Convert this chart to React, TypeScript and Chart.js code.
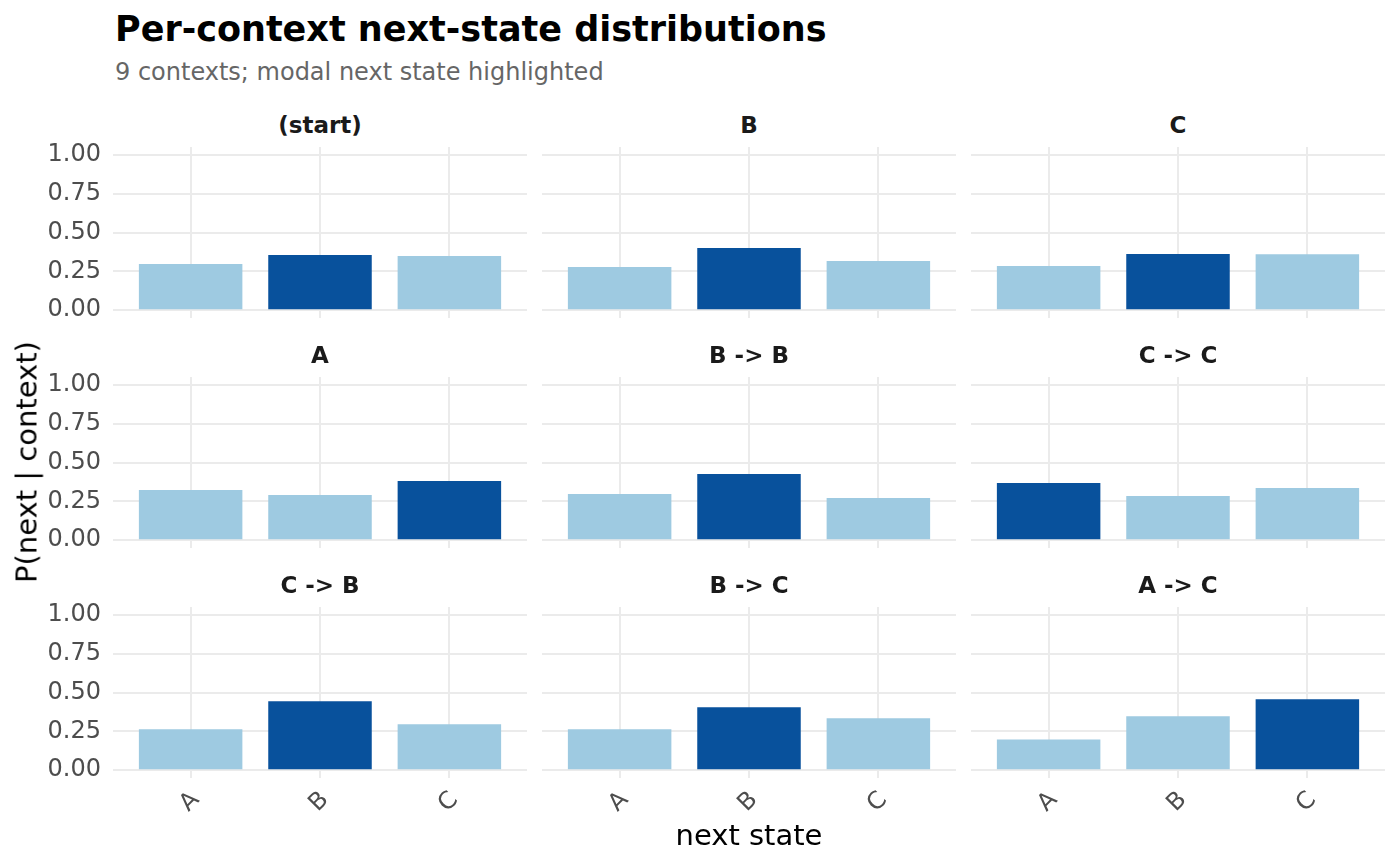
import { useEffect, useRef } from "react"
import { Chart, registerables } from "chart.js"

Chart.register(...registerables)

const contexts = ["(start)", "B", "C", "A", "B -> B", "C -> C", "C -> B", "B -> C", "A -> C"]
const nextStates = ["A", "B", "C"]
// P(next = A | context), P(next = B | context), P(next = C | context)
const probA = [0.297, 0.278, 0.284, 0.323, 0.298, 0.368, 0.263, 0.263, 0.198]
const probB = [0.356, 0.401, 0.362, 0.291, 0.426, 0.285, 0.444, 0.405, 0.347]
const probC = [0.349, 0.317, 0.36, 0.381, 0.272, 0.336, 0.295, 0.334, 0.457]
const yTicks = [0, 0.25, 0.5, 0.75, 1]

const LIGHT = "#9ecae1"
const DARK = "#08519c"
const GRID = "#ebebeb"
const TICK = "#4d4d4d"
const FONT = "'DejaVu Sans', Verdana, sans-serif"

// facet geometry
const colLeft = [113, 542, 971]
const rowTop = [147, 377, 607]
const PANEL_W = 414
const PANEL_H = 171
const PAD_T = 40
const PAD_R = 10
const PAD_B = 40
const X_AXIS_H = 70

Chart.defaults.font.family = FONT

function Panel({ index }: { index: number }) {
  const canvasRef = useRef<HTMLCanvasElement>(null)
  const row = Math.floor(index / 3)
  const col = index % 3
  const showY = col === 0
  const showX = row === 2
  const yAxisW = showY ? colLeft[0] : 0
  const boxW = yAxisW + PANEL_W + PAD_R
  const boxH = PAD_T + PANEL_H + (showX ? X_AXIS_H : PAD_B)

  useEffect(() => {
    if (!canvasRef.current) return
    const values = [probA[index], probB[index], probC[index]]
    const modal = Math.max(...values)

    const chart = new Chart(canvasRef.current, {
      type: "bar",
      data: {
        datasets: [
          {
            data: values.map((v, i) => ({ x: i + 1, y: v })),
            backgroundColor: values.map((v) => (v === modal ? DARK : LIGHT)),
            categoryPercentage: 1,
            barPercentage: 0.8,
          },
        ],
      },
      options: {
        animation: false,
        responsive: true,
        maintainAspectRatio: false,
        layout: { padding: { top: PAD_T, right: PAD_R, bottom: showX ? 0 : PAD_B, left: 0 } },
        plugins: { legend: { display: false }, tooltip: { enabled: false } },
        scales: {
          x: {
            type: "linear",
            min: 0.4,
            max: 3.6,
            offset: false,
            grid: { color: GRID, lineWidth: 2, drawTicks: false, offset: false },
            border: { display: false },
            afterBuildTicks: (scale: any) => {
              scale.ticks = nextStates.map((_, i) => ({ value: i + 1 }))
            },
            afterFit: (scale: any) => {
              scale.height = showX ? X_AXIS_H : 0
            },
            ticks: {
              display: showX,
              autoSkip: false,
              minRotation: 45,
              maxRotation: 45,
              padding: 8,
              labelOffset: 5,
              color: TICK,
              font: { size: 24 },
              callback: (v: any) => nextStates[Number(v) - 1],
            },
          },
          y: {
            type: "linear",
            min: -0.05,
            max: 1.05,
            grid: { color: GRID, lineWidth: 2, drawTicks: false },
            border: { display: false },
            afterBuildTicks: (scale: any) => {
              scale.ticks = yTicks.map((v) => ({ value: v }))
            },
            afterFit: (scale: any) => {
              scale.width = yAxisW
            },
            ticks: {
              display: showY,
              padding: 12,
              color: TICK,
              font: { size: 24 },
              callback: (v: any) => Number(v).toFixed(2),
            },
          },
        },
      },
    })

    return () => chart.destroy()
  }, [index])

  return (
    <>
      <div
        style={{
          position: "absolute",
          left: colLeft[col],
          top: rowTop[row] - 33,
          width: PANEL_W,
          textAlign: "center",
          fontWeight: "bold",
          fontSize: 23,
          lineHeight: "23px",
          color: "#1a1a1a",
        }}
      >
        {contexts[index]}
      </div>
      <div
        style={{
          position: "absolute",
          left: colLeft[col] - yAxisW,
          top: rowTop[row] - PAD_T,
          width: boxW,
          height: boxH,
        }}
      >
        <canvas ref={canvasRef} />
      </div>
    </>
  )
}

export default function App() {
  return (
    <div
      style={{
        position: "absolute",
        left: 0,
        top: 0,
        width: 1400,
        height: 866,
        background: "#fff",
        fontFamily: FONT,
        overflow: "hidden",
      }}
    >
      <div style={{ position: "absolute", left: 115, top: 12, fontSize: 35, lineHeight: "35px", fontWeight: "bold", color: "#000", whiteSpace: "nowrap" }}>
        Per-context next-state distributions
      </div>
      <div style={{ position: "absolute", left: 115, top: 60, fontSize: 24, lineHeight: "24px", color: "#666666", whiteSpace: "nowrap" }}>
        9 contexts; modal next state highlighted
      </div>
      {contexts.map((_, i) => (
        <Panel key={i} index={i} />
      ))}
      <div
        style={{
          position: "absolute",
          left: 27,
          top: 462,
          transform: "translate(-50%, -50%) rotate(-90deg)",
          fontSize: 29,
          lineHeight: "29px",
          color: "#000",
          whiteSpace: "nowrap",
        }}
      >
        P(next | context)
      </div>
      <div
        style={{
          position: "absolute",
          left: 749,
          top: 835,
          transform: "translate(-50%, -50%)",
          fontSize: 29,
          lineHeight: "29px",
          color: "#000",
          whiteSpace: "nowrap",
        }}
      >
        next state
      </div>
    </div>
  )
}
